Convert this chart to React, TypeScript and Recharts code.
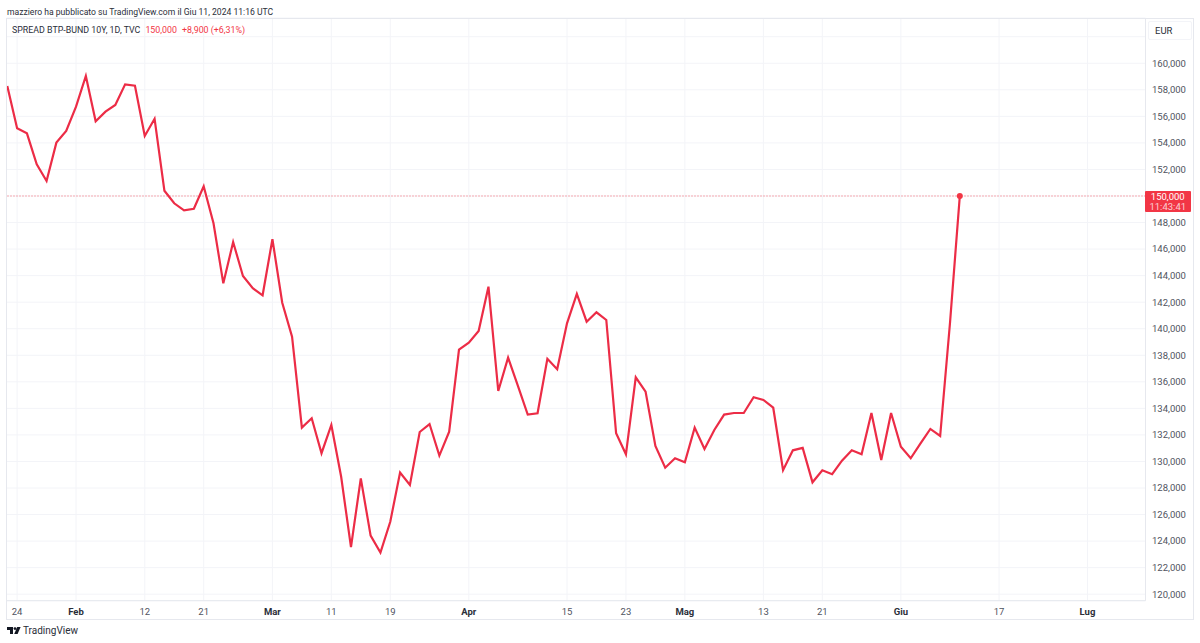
import React from "react";
import {
  LineChart,
  Line,
  XAxis,
  YAxis,
  CartesianGrid,
  ReferenceLine,
} from "recharts";

// daily closes, one per trading day (index = position on the time axis)
const spread: number[] = [
  158.29, 155.1, 154.72, 152.39, 151.13, 154.02, 154.9, 156.73, 159.04, 155.63,
  156.35, 156.86, 158.41, 158.31, 154.52, 155.82, 150.4, 149.45, 148.92, 149.04,
  150.73, 147.94, 143.42, 146.53, 143.97, 143.05, 142.52, 146.74, 141.96, 139.4,
  132.55, 133.25, 130.62, 132.75, 128.85, 123.54, 128.73, 124.41, 123.13, 125.46,
  129.16, 128.23, 132.22, 132.82, 130.44, 132.24, 138.42, 138.95, 139.83, 143.17,
  135.31, 137.82, 135.69, 133.53, 133.63, 137.74, 136.95, 140.41, 142.62, 140.53,
  141.24, 140.66, 132.12, 130.54, 136.34, 135.26, 131.17, 129.53, 130.24, 129.94,
  132.55, 130.94, 132.37, 133.53, 133.65, 133.65, 134.84, 134.63, 134.05, 129.34,
  130.84, 131.02, 128.43, 129.34, 129.04, 130.06, 130.84, 130.54, 133.65, 130.11,
  133.65, 131.11, 130.24, 131.37, 132.45, 131.92, 140.43, 150,
];

const xTicks = [1, 7, 14, 20, 27, 33, 39, 47, 57, 63, 69, 77, 83, 91, 101, 110];
const xLabels = ["24", "Feb", "12", "21", "Mar", "11", "19", "Apr", "15", "23", "Mag", "13", "21", "Giu", "17", "Lug"];
const monthLabels = ["Feb", "Mar", "Apr", "Mag", "Giu", "Lug"];
const yTicks = [120, 122, 124, 126, 128, 130, 132, 134, 136, 138, 140, 142, 144, 146, 148, 150, 152, 154, 156, 158, 160, 162];
// 150 sits under the price tag and 162 under the currency box
const hiddenYLabels = [150, 162];

const data = spread.map((v, i) => ({ idx: i, spread: v }));

const RED = "#f23645";
const LINE = "#ec2c46";
const GRID = "#f3f4f8";
const BORDER = "#e6e8ee";
const FONT = "Roboto, sans-serif";

const XTick = (props: any) => {
  const { x, y, payload } = props;
  const label = xLabels[xTicks.indexOf(payload.value)];
  const bold = monthLabels.includes(label);
  return (
    <text
      x={x}
      y={y + 6}
      textAnchor="middle"
      fontFamily={FONT}
      fontSize={9.5}
      fontWeight={bold ? 700 : 400}
      fill={bold ? "#2a2e39" : "#50535e"}
    >
      {label}
    </text>
  );
};

const LastDot = (props: any) => {
  const { cx, cy, index } = props;
  if (index !== spread.length - 1) return <g key={index} />;
  return <circle key={index} cx={cx} cy={cy} r={3} fill={RED} />;
};

const App = () => {
  return (
    <div style={{ position: "absolute", left: 0, top: 0, width: 1200, height: 643, background: "#fff", fontFamily: FONT, overflow: "hidden" }}>
      <LineChart
        width={1200}
        height={643}
        data={data}
        margin={{ top: 18, left: 6.5, right: 7, bottom: 24 }}
      >
        <CartesianGrid stroke={GRID} />
        <XAxis
          dataKey="idx"
          type="number"
          domain={[-0.08, 115.91]}
          allowDataOverflow
          ticks={xTicks}
          interval={0}
          height={18.3}
          tickLine={false}
          axisLine={{ stroke: BORDER }}
          tick={<XTick />}
        />
        <YAxis
          orientation="right"
          type="number"
          domain={[119.51, 163.41]}
          allowDataOverflow
          ticks={yTicks}
          interval={0}
          width={47.5}
          tickLine={false}
          tickMargin={0.5}
          axisLine={{ stroke: BORDER }}
          tick={{ fontSize: 9.5, fontFamily: FONT, fill: "#50535e" }}
          tickFormatter={(v: number) => (hiddenYLabels.includes(v) ? "" : v.toFixed(3).replace(".", ","))}
        />
        <ReferenceLine y={150} stroke={RED} strokeDasharray="1 2" strokeOpacity={0.8} />
        <Line
          dataKey="spread"
          type="linear"
          stroke={LINE}
          strokeWidth={2.2}
          dot={LastDot}
          activeDot={false}
          isAnimationActive={false}
        />
      </LineChart>

      {/* frame and overlays */}
      <div style={{ position: "absolute", left: 6, top: 18, width: 1186, height: 600, border: `1px solid ${BORDER}`, pointerEvents: "none" }} />
      <div style={{ position: "absolute", left: 7, top: 6.5, fontSize: 8.6, color: "#2a2e39", whiteSpace: "nowrap" }}>
        mazziero ha pubblicato su TradingView.com il Giu 11, 2024 11:16 UTC
      </div>
      <div style={{ position: "absolute", left: 12, top: 25, fontSize: 8.85, color: "#2a2e39", whiteSpace: "nowrap" }}>
        SPREAD BTP-BUND 10Y, 1D, TVC
        <span style={{ color: RED, marginLeft: 5 }}>150,000</span>
        <span style={{ color: RED, marginLeft: 5 }}>+8,900 (+6,31%)</span>
      </div>
      <div style={{ position: "absolute", left: 1148, top: 21, width: 42, height: 17, border: `1px solid ${GRID}`, borderRadius: 2, background: "#fff", fontSize: 9.5, color: "#2a2e39", lineHeight: "17px", textIndent: 6 }}>
        EUR
      </div>
      <div style={{ position: "absolute", left: 1145, top: 191, width: 45.5, height: 21, background: RED, borderRadius: 1, color: "#fff", fontSize: 9.5, lineHeight: "10px", paddingTop: 0.5, boxSizing: "border-box", textAlign: "center" }}>
        150,000
        <br />
        <span style={{ opacity: 0.75 }}>11:43:41</span>
      </div>
      <svg style={{ position: "absolute", left: 7, top: 627 }} width={14} height={8} viewBox="0 0 14 8">
        <path d="M0 0H6V7H3V3H0Z" fill="#131722" />
        <circle cx={8} cy={1.6} r={1.4} fill="#131722" />
        <path d="M10.2 0H13.6L10.6 7H7.2Z" fill="#131722" />
      </svg>
      <div style={{ position: "absolute", left: 23, top: 625, fontSize: 10, color: "#2a2e39", whiteSpace: "nowrap" }}>
        TradingView
      </div>
    </div>
  );
};

export default App;
